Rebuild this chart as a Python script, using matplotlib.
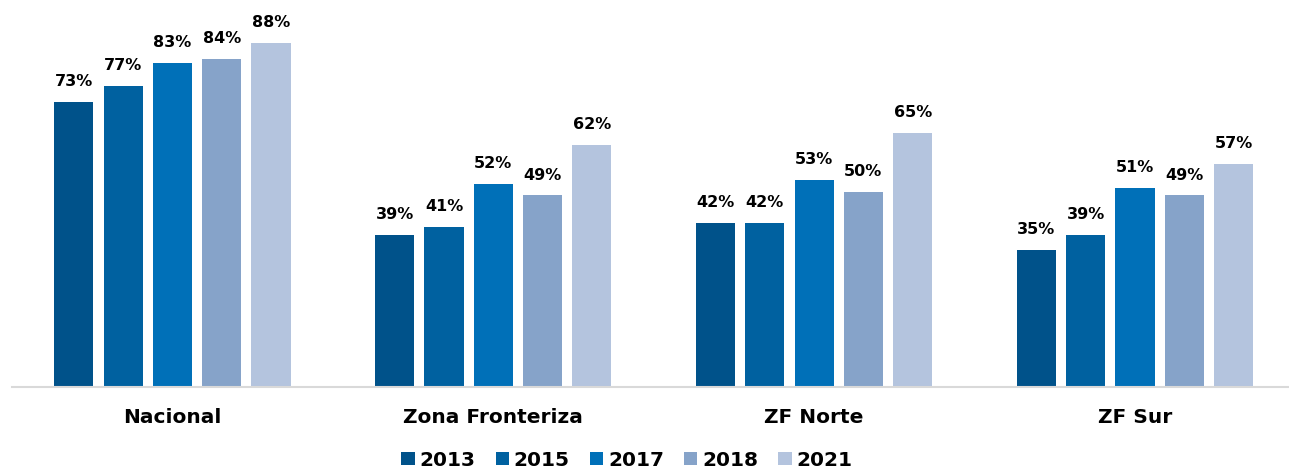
import matplotlib
matplotlib.use("Agg")
import matplotlib.pyplot as plt
import numpy as np

plt.rcParams['font.family'] = ['DejaVu Sans']

categories = ["Nacional", "Zona Fronteriza", "ZF Norte", "ZF Sur"]
years = ["2013", "2015", "2017", "2018", "2021"]
v2013 = [73, 39, 42, 35]
v2015 = [77, 41, 42, 39]
v2017 = [83, 52, 53, 51]
v2018 = [84, 49, 50, 49]
v2021 = [88, 62, 65, 57]
series = [v2013, v2015, v2017, v2018, v2021]
colors = ["#00528A", "#0061A0", "#0070B8", "#86A3C9", "#B4C4DE"]

fig = plt.figure(figsize=(12.89, 4.72), dpi=100)
ax = fig.add_axes([12/1289, 85/472, 1 - 12/1289, 387/472])

x = np.arange(len(categories))
step = 0.1536
w = 0.122
for i, (vals, c, yr) in enumerate(zip(series, colors, years)):
    pos = x + (i - 2) * step
    bars = ax.bar(pos, vals, w, color=c, label=yr)
    for b, v in zip(bars, vals):
        ax.text(b.get_x() + b.get_width()/2, v + 3.3, f"{v}%", ha='center', va='bottom',
                fontsize=11.5, fontweight='bold', color='black')

ax.set_xlim(-0.5, 3.48)
ax.set_ylim(0, 99)
ax.set_yticks([])
ax.set_xticks(x)
ax.set_xticklabels(categories, fontsize=14.5, fontweight='bold')
ax.tick_params(axis='x', length=0, pad=15)
for s in ['top', 'right', 'left']:
    ax.spines[s].set_visible(False)
ax.spines['bottom'].set_color('#D9D9D9')
ax.spines['bottom'].set_linewidth(1.5)

leg = fig.legend(loc='center', bbox_to_anchor=(627/1289, 1 - 460/472), ncol=5, frameon=False,
                 prop={'size': 14.5, 'weight': 'bold'}, handlelength=0.65, handleheight=0.65,
                 handletextpad=0.25, columnspacing=1.0)

fig.savefig("out.png", dpi=100)
